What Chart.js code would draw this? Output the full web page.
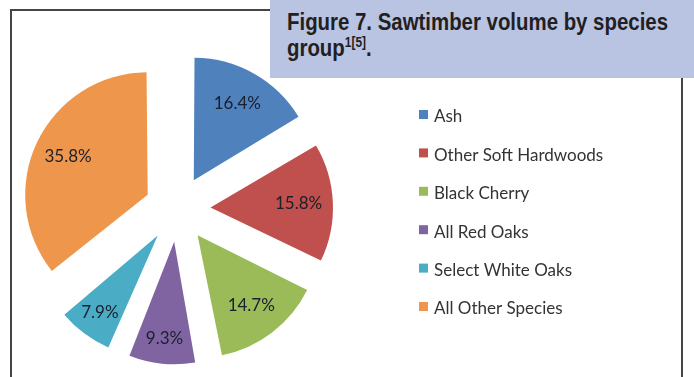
<!DOCTYPE html>
<html>
<head>
<meta charset="utf-8">
<script src="https://cdn.jsdelivr.net/npm/chart.js@4/dist/chart.umd.min.js"></script>
<style>
  html, body { margin: 0; padding: 0; background: #fff; }
  #wrap { position: relative; width: 694px; height: 377px; overflow: hidden; background: #fff; }
  #frame { position: absolute; left: 10px; top: 9px; width: 673px; height: 420px; box-sizing: border-box; border: 2px solid #454545; }
  #pie { position: absolute; left: 0; top: 0; }
  #caption { position: absolute; left: 270px; top: 0; width: 424px; height: 78px; background: #b9c3e2; }
  #captionText { position: absolute; left: 17px; top: 9px; display: inline-block; white-space: nowrap;
    transform-origin: 0 0;
    font-family: "Liberation Sans", Arial, sans-serif;
    font-weight: bold; font-size: 24px; line-height: 26px; color: #231f20; }
  #captionText sup { font-size: 14px; line-height: 0; vertical-align: 9px; }
</style>
</head>
<body>
<div id="wrap">
  <div id="frame"></div>
  <canvas id="pie" width="694" height="377"></canvas>
  <div id="caption"><span id="captionText">Figure 7. Sawtimber volume by species<br>group<sup>1[5]</sup>.</span></div>
</div>
<script>
// Share of sawtimber volume (%) by species group
const species = ['Ash', 'Other Soft Hardwoods', 'Black Cherry', 'All Red Oaks', 'Select White Oaks', 'All Other Species'];
const volumeShare = [16.4, 15.8, 14.7, 9.3, 7.9, 35.8];
const sliceColors = ['#4f81bd', '#c0504d', '#9bbb59', '#8064a2', '#4bacc6', '#ee974c'];

const PIE_RADIUS = 122.5;
const EXPLODE = 33;          // outward shift of every slice, px

// Condensed caption: squeeze the bold heading to its column width
(function () {
  const el = document.getElementById('captionText');
  const w = el.getBoundingClientRect().width;
  el.style.transform = 'scaleX(' + (381 / w) + ')';
})();

// Chart.js shifts an arc by offset/4 and also grows narrow arcs; keep every slice at one radius.
const evenRadius = {
  id: 'evenRadius',
  beforeDatasetsDraw(chart) {
    const meta = chart.getDatasetMeta(0);
    meta.data.forEach(arc => {
      const circ = arc.endAngle - arc.startAngle;
      const fix = 1 - Math.sin(Math.min(Math.PI, circ));
      arc.outerRadius = PIE_RADIUS - EXPLODE * fix;
    });
  }
};

// Percentage text inside each slice
const sliceLabels = {
  id: 'sliceLabels',
  afterDatasetsDraw(chart) {
    const ctx = chart.ctx;
    const meta = chart.getDatasetMeta(0);
    ctx.save();
    ctx.font = '17px Lato, "Open Sans", sans-serif';
    ctx.fillStyle = '#1a1f2c';
    ctx.textAlign = 'center';
    ctx.textBaseline = 'middle';
    meta.data.forEach((arc, i) => {
      const mid = (arc.startAngle + arc.endAngle) / 2;
      const span = arc.endAngle - arc.startAngle;
      const frac = span < 0.7 ? 0.79 : 0.72;
      const d = EXPLODE + frac * PIE_RADIUS;
      ctx.fillText(volumeShare[i].toFixed(1) + '%', arc.x + Math.cos(mid) * d, arc.y + Math.sin(mid) * d);
    });
    ctx.restore();
  }
};

// Legend column to the right of the pie
const sideLegend = {
  id: 'sideLegend',
  afterDraw(chart) {
    const ctx = chart.ctx;
    const labels = chart.data.labels;
    const colors = chart.data.datasets[0].backgroundColor;
    ctx.save();
    ctx.font = '17px Lato, "Open Sans", sans-serif';
    ctx.textBaseline = 'middle';
    labels.forEach((txt, i) => {
      const cy = 117 + i * 38.4;
      ctx.fillStyle = colors[i];
      ctx.fillRect(419, cy - 7, 9, 9);
      ctx.fillStyle = '#333333';
      ctx.fillText(txt, 434, cy);
    });
    ctx.restore();
  }
};

new Chart(document.getElementById('pie'), {
  type: 'pie',
  data: {
    labels: species,
    datasets: [{
      data: volumeShare,
      backgroundColor: sliceColors,
      borderWidth: 0,
      offset: EXPLODE * 4
    }]
  },
  options: {
    responsive: false,
    animation: false,
    radius: PIE_RADIUS,
    layout: { padding: { left: 0, right: 339, top: 41, bottom: 0 } },
    plugins: { legend: { display: false }, tooltip: { enabled: false }, title: { display: false } }
  },
  plugins: [evenRadius, sliceLabels, sideLegend]
});
</script>
</body>
</html>
